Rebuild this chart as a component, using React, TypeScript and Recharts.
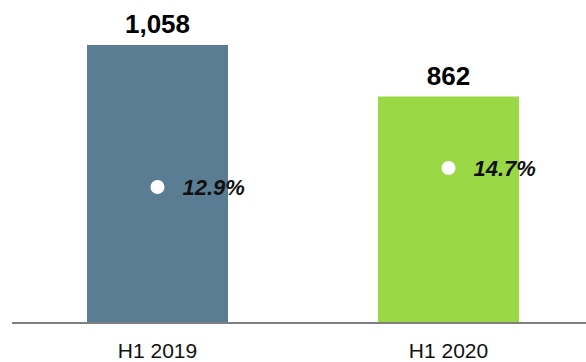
import { ComposedChart, Bar, Line, XAxis, YAxis, Cell, LabelList } from 'recharts'

const categories = ['H1 2019', 'H1 2020']
const volumes = [1058, 862]
const shares = [12.9, 14.7]

const BAR_COLORS = ['#5b7d94', '#9bd845']
const FONT = '"Liberation Sans", Arial, sans-serif'

const data = categories.map((name, i) => ({ name, volume: volumes[i], share: shares[i] }))

export default function App() {
  return (
    <div
      style={{
        position: 'absolute',
        left: 0,
        top: 0,
        width: 586,
        height: 362,
        overflow: 'hidden',
        background: '#fff',
        fontFamily: FONT,
      }}
    >
      <ComposedChart
        width={594}
        height={362}
        data={data}
        margin={{ top: 45, right: 0, left: 12, bottom: 0 }}
      >
        <XAxis
          dataKey="name"
          height={39}
          axisLine={{ stroke: '#7f7f7f', strokeWidth: 2 }}
          tickLine={false}
          tickSize={0}
          tickMargin={20}
          tick={{ fontSize: 21, fill: '#111', fontFamily: FONT }}
        />
        <YAxis yAxisId="left" hide domain={[0, 1058]} />
        <YAxis yAxisId="right" orientation="right" hide domain={[0, 26.37]} />
        <Bar yAxisId="left" dataKey="volume" barSize={141} isAnimationActive={false}>
          {data.map((d, i) => (
            <Cell key={d.name} fill={BAR_COLORS[i]} />
          ))}
          <LabelList
            dataKey="volume"
            position="top"
            offset={12}
            formatter={(v: number) => v.toLocaleString('en-US')}
            style={{ fontSize: 26, fontWeight: 700, fill: '#000', fontFamily: FONT }}
          />
        </Bar>
        <Line
          yAxisId="right"
          dataKey="share"
          stroke="none"
          isAnimationActive={false}
          dot={{ r: 7, fill: '#fff', stroke: 'none' }}
          activeDot={false}
        >
          <LabelList
            dataKey="share"
            position="right"
            offset={25}
            formatter={(v: number) => `${v.toFixed(1)}%`}
            style={{
              fontSize: 22,
              fontWeight: 700,
              fontStyle: 'italic',
              fill: '#111',
              fontFamily: FONT,
            }}
          />
        </Line>
      </ComposedChart>
    </div>
  )
}
